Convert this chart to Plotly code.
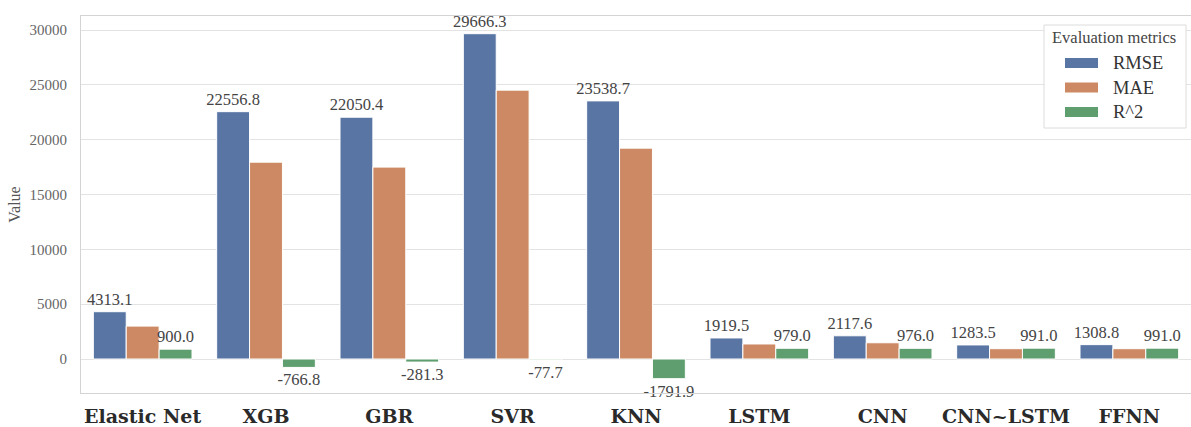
import plotly.graph_objects as go

# Model comparison: error metrics per model (R^2 shown scaled x1000)
models = ["Elastic Net", "XGB", "GBR", "SVR", "KNN", "LSTM", "CNN", "CNN~LSTM", "FFNN"]
rmse = [4313.1, 22556.8, 22050.4, 29666.3, 23538.7, 1919.5, 2117.6, 1283.5, 1308.8]
mae = [3000.0, 17950.0, 17500.0, 24520.0, 19230.0, 1370.0, 1480.0, 940.0, 940.0]
r2 = [900.0, -766.8, -281.3, -77.7, -1791.9, 979.0, 976.0, 991.0, 991.0]
metric_names = ["RMSE", "MAE", "R^2"]
y_ticks = [0, 5000, 10000, 15000, 20000, 25000, 30000]

colors = ["#5975a4", "#cc8963", "#5f9e6e"]
label_font = dict(family="Liberation Serif", size=16.5, color="#444444")

W, H = 1191, 427
ML, MR, MT, MB = 81, 0, 16, 34

fig = go.Figure()
series = [rmse, mae, r2]
show_labels = [True, False, True]
for name, vals, col, lab in zip(metric_names, series, colors, show_labels):
    fig.add_trace(go.Bar(
        x=models, y=vals, name=name,
        marker=dict(color=col, line=dict(color="white", width=1)),
        text=[f"{v:.1f}" for v in vals] if lab else None,
        textposition="outside" if lab else "none",
        textfont=label_font,
        constraintext="none",
        cliponaxis=False,
        showlegend=False,
    ))

fig.update_layout(
    width=W, height=H,
    margin=dict(l=ML, r=MR, t=MT, b=MB, pad=0, autoexpand=False),
    barmode="group", bargap=0.2, bargroupgap=0,
    plot_bgcolor="white", paper_bgcolor="white",
    font=dict(family="Liberation Serif", color="#555555"),
    uniformtext=dict(mode=False),
)
fig.update_xaxes(
    type="category", range=[-0.5, 8.5], automargin=False,
    showgrid=False, showline=True, mirror=True, linecolor="#d4d4d4", linewidth=1.2,
    ticks="", ticklabelstandoff=6,
    tickfont=dict(family="DejaVu Serif", size=19, color="#2a2a2a", weight="bold"),
)
fig.update_yaxes(
    range=[-3100, 31280], tickvals=y_ticks, ticktext=[str(t) for t in y_ticks],
    automargin=False,
    showgrid=True, gridcolor="#e3e3e3", gridwidth=1,
    zeroline=False,
    showline=True, linecolor="#d4d4d4", linewidth=1.2,
    ticks="", ticklabelstandoff=10,
    tickfont=dict(family="Liberation Serif", size=15, color="#666666"),
    title=dict(text="Value", font=dict(family="Liberation Serif", size=16, color="#555555"), standoff=4),
)

# Legend drawn as a framed box with wide swatches
PW, PH = W - ML - MR, H - MT - MB
px = lambda x: (x - ML) / PW
py = lambda y: (H - MB - y) / PH

fig.add_shape(type="rect", xref="paper", yref="paper",
              x0=px(1044), x1=px(1186), y0=py(128), y1=py(25),
              fillcolor="white", line=dict(color="#dcdcdc", width=1), layer="above")
fig.add_annotation(xref="paper", yref="paper", x=px(1114), y=py(38),
                   text="Evaluation metrics", showarrow=False,
                   xanchor="center", yanchor="middle",
                   font=dict(family="Liberation Serif", size=16.5, color="#444444"))
for i, (name, col) in enumerate(zip(metric_names, colors)):
    yc = 63 + i * 24.5
    fig.add_shape(type="rect", xref="paper", yref="paper",
                  x0=px(1065), x1=px(1098), y0=py(yc + 5), y1=py(yc - 5),
                  fillcolor=col, line=dict(color=col, width=0), layer="above")
    fig.add_annotation(xref="paper", yref="paper", x=px(1111), y=py(yc),
                       text=name, showarrow=False, xanchor="left", yanchor="middle",
                       font=dict(family="Liberation Serif", size=18.5, color="#333333"))

fig.write_html("out.html")
